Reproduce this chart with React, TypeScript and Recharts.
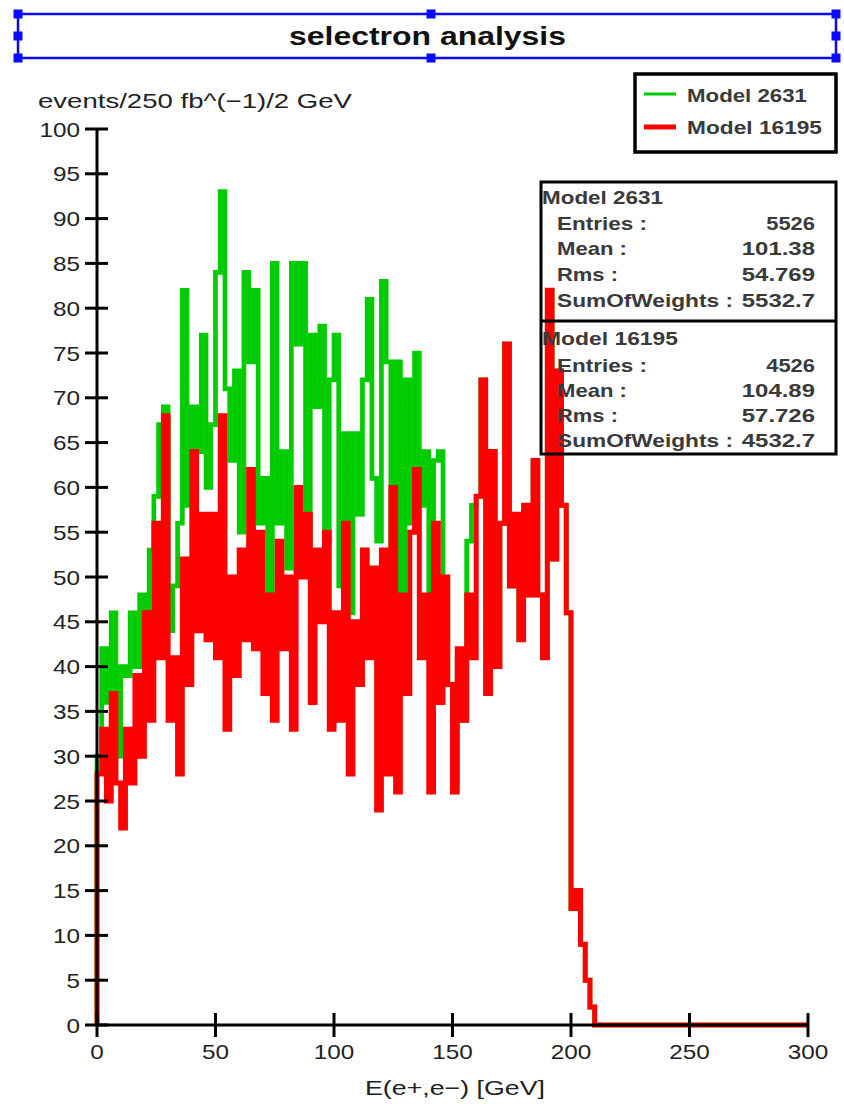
import React from 'react';
import { LineChart, Line, XAxis, YAxis } from 'recharts';

// 2 GeV bins, low edges 0..212
const BIN_WIDTH = 2;

const model2631 = [
  30, 42, 36, 46, 30, 40, 39, 46, 40, 48,
  41, 53, 59, 67, 69, 44, 49, 56, 82, 58,
  69, 64, 77, 60, 67, 84, 93, 71, 63, 73,
  55, 84, 74, 82, 56, 61, 48, 85, 56, 64,
  51, 85, 76, 85, 53, 77, 69, 78, 54, 72,
  77, 49, 66, 46, 66, 57, 72, 81, 61, 54,
  83, 74, 48, 74, 48, 72, 56, 75, 58, 64,
  48, 63, 64, 50, 38, 27, 41, 34, 54, 58,
  59, 72, 37, 64, 40, 56, 76, 49, 57, 43,
  58, 48, 63, 48, 41, 82, 52, 73, 58, 46,
  13, 15, 9, 5, 2, 0, 0,
];

const model16195 = [
  28, 33, 25, 37, 27, 22, 33, 27, 39, 30,
  46, 34, 56, 41, 68, 34, 41, 28, 52, 38,
  64, 44, 57, 43, 57, 41, 68, 33, 50, 39,
  53, 43, 62, 42, 55, 37, 48, 34, 54, 42,
  50, 33, 60, 50, 57, 36, 53, 45, 55, 33,
  46, 34, 56, 28, 45, 38, 53, 41, 51, 24,
  53, 28, 60, 26, 48, 37, 55, 62, 41, 48,
  26, 56, 36, 50, 38, 26, 42, 34, 48, 41,
  59, 72, 37, 64, 40, 56, 76, 49, 57, 43,
  58, 48, 63, 48, 41, 82, 52, 73, 58, 46,
  13, 15, 9, 5, 2, 0, 0,
];

const xTicks = [0, 50, 100, 150, 200, 250, 300];
const yTicks = [0, 5, 10, 15, 20, 25, 30, 35, 40, 45, 50, 55, 60, 65, 70, 75, 80, 85, 90, 95, 100];

const statsA = [
  ['Entries :', '5526'],
  ['Mean :', '101.38'],
  ['Rms :', '54.769'],
  ['SumOfWeights :', '5532.7'],
];
const statsB = [
  ['Entries :', '4526'],
  ['Mean :', '104.89'],
  ['Rms :', '57.726'],
  ['SumOfWeights :', '4532.7'],
];

// histogram rows: a zero point at x=0 so the first edge rises from the axis,
// one row per bin low edge, then the upper end of the axis
const rows = [
  { x: 0, green: 0, red: 0 },
  ...model2631.map((g, i) => ({ x: i * BIN_WIDTH, green: g, red: model16195[i] })),
  { x: 300, green: 0, red: 0 },
];

const FONT = '"Liberation Sans", Arial, sans-serif';
const DIGIT_W = 13.5;

const XTick = (props: any) => {
  const { x, y, payload } = props;
  const s = String(payload.value);
  return (
    <g>
      <line x1={x} x2={x} y1={y - 12} y2={y + 12} stroke="#000" strokeWidth={3} />
      <text x={x} y={y + 34} textAnchor="middle" fontSize={21} fontFamily={FONT} fill="#222"
        textLength={s.length * DIGIT_W} lengthAdjust="spacingAndGlyphs">
        {s}
      </text>
    </g>
  );
};

const YTick = (props: any) => {
  const { x, y, payload } = props;
  const s = String(payload.value);
  return (
    <g>
      <line x1={x - 12} x2={x + 11} y1={y} y2={y} stroke="#000" strokeWidth={3} />
      <text x={x - 17} y={y} dominantBaseline="central" textAnchor="end" fontSize={21} fontFamily={FONT} fill="#222"
        textLength={s.length * DIGIT_W} lengthAdjust="spacingAndGlyphs">
        {s}
      </text>
    </g>
  );
};

const labelLen: Record<string, number> = {
  'Entries :': 90,
  'Mean :': 70,
  'Rms :': 61,
  'SumOfWeights :': 176,
};

const StatBlock = ({ title, rowsY, titleY, data, titleLen }: any) => (
  <g fontFamily={FONT} fill="#3a3a3a" fontWeight="bold" fontSize={19}>
    <text x={542} y={titleY} dominantBaseline="central" textLength={titleLen} lengthAdjust="spacingAndGlyphs">
      {title}
    </text>
    {data.map((r: string[], i: number) => (
      <g key={r[0]}>
        <text x={557} y={rowsY[i]} dominantBaseline="central" textLength={labelLen[r[0]]} lengthAdjust="spacingAndGlyphs">
          {r[0]}
        </text>
        <text x={815} y={rowsY[i]} dominantBaseline="central" textAnchor="end"
          textLength={r[1].length * 12.2} lengthAdjust="spacingAndGlyphs">
          {r[1]}
        </text>
      </g>
    ))}
  </g>
);

const handles = [
  [18, 14], [431, 14], [836, 14],
  [18, 36], [836, 36],
  [18, 58], [431, 58], [836, 58],
];

export default function App() {
  return (
    <div style={{ position: 'absolute', left: 0, top: 0, width: 844, height: 1104, background: '#fff' }}>
      <LineChart
        width={844}
        height={1104}
        data={rows}
        margin={{ top: 129, right: 36, bottom: 19, left: 37 }}
      >
        <XAxis
          type="number"
          dataKey="x"
          domain={[0, 300]}
          ticks={xTicks}
          interval={0}
          tick={<XTick />}
          tickLine={false}
          tickSize={0}
          tickMargin={0}
          axisLine={{ stroke: '#000', strokeWidth: 3 }}
          height={60}
        />
        <YAxis
          type="number"
          domain={[0, 100]}
          ticks={yTicks}
          interval={0}
          tick={<YTick />}
          tickLine={false}
          tickSize={0}
          tickMargin={0}
          axisLine={{ stroke: '#000', strokeWidth: 3 }}
          width={60}
        />
        <Line type="stepAfter" dataKey="green" stroke="#00cc00" strokeWidth={4.7} strokeLinejoin="miter" dot={false} isAnimationActive={false} />
        <Line type="stepAfter" dataKey="red" stroke="#ff0000" strokeWidth={5} strokeLinejoin="miter" dot={false} isAnimationActive={false} />
      </LineChart>

      <svg width={844} height={1104} style={{ position: 'absolute', left: 0, top: 0, pointerEvents: 'none' }}>
        {/* title box */}
        <rect x={18} y={14} width={818} height={44} fill="none" stroke="#0a0aff" strokeWidth={2.5} />
        {handles.map(([hx, hy]) => (
          <rect key={`${hx}-${hy}`} x={hx - 4.5} y={hy - 4.5} width={9} height={9} fill="#0a0aff" />
        ))}
        <text x={289} y={45} fontSize={26} fontWeight="bold" fontFamily={FONT} fill="#111" textLength={277} lengthAdjust="spacingAndGlyphs">
          selectron analysis
        </text>

        {/* axis titles */}
        <text x={38} y={108} fontSize={21} fontFamily={FONT} fill="#222" textLength={314} lengthAdjust="spacingAndGlyphs">
          events/250 fb^(−1)/2 GeV
        </text>
        <text x={365} y={1095} fontSize={21} fontFamily={FONT} fill="#222" textLength={180} lengthAdjust="spacingAndGlyphs">
          E(e+,e−) [GeV]
        </text>

        {/* legend */}
        <rect x={635} y={74} width={201} height={78} fill="none" stroke="#000" strokeWidth={3.5} />
        <line x1={644} x2={676} y1={94} y2={94} stroke="#00cc00" strokeWidth={3} />
        <line x1={644} x2={676} y1={127} y2={127} stroke="#ff0000" strokeWidth={5} />
        <g fontFamily={FONT} fill="#3a3a3a" fontWeight="bold" fontSize={19}>
          <text x={687} y={95} dominantBaseline="central" textLength={120} lengthAdjust="spacingAndGlyphs">Model 2631</text>
          <text x={687} y={127} dominantBaseline="central" textLength={135} lengthAdjust="spacingAndGlyphs">Model 16195</text>
        </g>

        {/* statistics box */}
        <rect x={541} y={182} width={295} height={272} fill="none" stroke="#000" strokeWidth={3} />
        <line x1={541} x2={836} y1={321} y2={321} stroke="#000" strokeWidth={3} />
        <StatBlock title="Model 2631" titleY={197} titleLen={121} rowsY={[223, 248, 274, 300]} data={statsA} />
        <StatBlock title="Model 16195" titleY={338} titleLen={136} rowsY={[365, 390, 415, 440]} data={statsB} />
      </svg>
    </div>
  );
}
